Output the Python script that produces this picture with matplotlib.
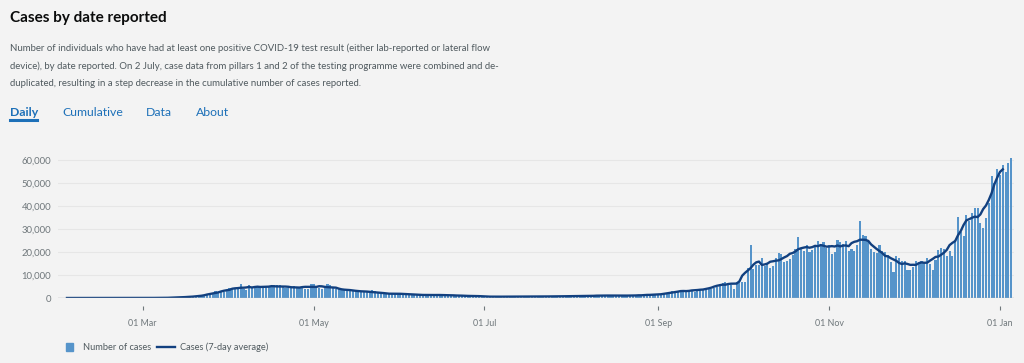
import matplotlib
matplotlib.use("Agg")
import matplotlib.pyplot as plt
import matplotlib.dates as mdates
from matplotlib.lines import Line2D
from matplotlib.patches import Rectangle
import numpy as np
import pandas as pd

# daily cases by date reported, one list per month (31 Jan 2020 - 05 Jan 2021)
jan20 = [2]
feb20 = [0, 0, 0, 0, 0, 1, 0, 0, 0, 4, 0, 1, 0, 0, 0, 0, 0, 0, 0, 0, 0, 0,
         0, 4, 0, 0, 2, 5, 3]
mar20 = [12, 4, 11, 34, 30, 48, 43, 67, 48, 61, 74, 126, 208, 342, 251, 152,
         407, 676, 643, 714, 1035, 665, 967, 1427, 1452, 2129, 2885, 2546,
         2433, 2619, 3009]
apr20 = [4324, 4244, 4450, 3735, 5903, 3802, 3634, 5491, 4344, 5195, 5233,
         4342, 5252, 4603, 4617, 4618, 5599, 5525, 5850, 4676, 4301, 4451,
         4583, 5386, 4913, 4463, 4310, 3996, 4076, 6032]
may20 = [6201, 4806, 4339, 3985, 4406, 6111, 5614, 4649, 3896, 3923, 3877,
         3403, 3242, 3446, 3560, 3451, 3142, 2684, 2412, 2472, 2615, 3287,
         2959, 2405, 1625, 2004, 2013, 1887, 2095, 1936, 1570]
jun20 = [1653, 1871, 1871, 1805, 1650, 1557, 1326, 1205, 1387, 1003, 1266,
         1541, 1425, 1514, 1056, 1279, 1115, 1218, 1346, 1295, 1221, 958, 874,
         653, 1118, 1006, 890, 901, 815, 689]
jul20 = [829, 576, 544, 624, 516, 352, 581, 630, 512, 820, 650, 598, 530,
         538, 538, 642, 687, 827, 580, 535, 445, 560, 769, 767, 798, 745, 685,
         581, 763, 846, 880]
aug20 = [744, 742, 938, 670, 892, 950, 871, 758, 1062, 816, 1148, 1009, 1441,
         1012, 1077, 1040, 713, 1089, 812, 1182, 1033, 1288, 1041, 853, 1184,
         1048, 1276, 1522, 1276, 1715, 1406]
sep20 = [1295, 1508, 1735, 1940, 1813, 2988, 2948, 2460, 2659, 2919, 3539,
         3497, 3330, 2621, 3105, 3991, 3395, 4322, 4422, 3899, 4368, 4926,
         6178, 6634, 6874, 6042, 5693, 4044, 7143, 7108]
oct20 = [6914, 6968, 12872, 22961, 12594, 14542, 14162, 17540, 13864, 15166,
         12872, 13972, 17234, 19724, 18980, 15650, 16171, 16982, 18804, 21331,
         26688, 21242, 20530, 23012, 19790, 20890, 22885, 24701, 23065, 24405,
         21915]
nov20 = [23254, 18950, 20018, 25177, 24141, 23287, 24957, 20572, 21350, 20412,
         22950, 33470, 27301, 26860, 24962, 21363, 20051, 19609, 22915, 20252,
         19875, 18662, 15450, 11299, 18213, 17555, 16022, 15871, 12155, 12330]
dec20 = [13430, 16170, 14879, 16298, 15539, 17272, 14718, 12282, 16578, 20964,
         21672, 21502, 18447, 20263, 18450, 25161, 35383, 28507, 27052, 35928,
         33364, 36804, 39237, 39036, 32725, 30501, 34693, 41385, 53135, 50023,
         55892]
jan21 = [53285, 57725, 54990, 58784, 60916]

cases = jan20 + feb20 + mar20 + apr20 + may20 + jun20 + jul20 + aug20 + \
    sep20 + oct20 + nov20 + dec20 + jan21
dates = pd.date_range("2020-01-31", periods=len(cases), freq="D")
df = pd.DataFrame({"cases": cases}, index=dates)
df["avg"] = df["cases"].rolling(7, center=True).mean()

W, H = 1024, 363
plt.rcParams["font.family"] = ["Lato", "DejaVu Sans"]
fig = plt.figure(figsize=(W / 100, H / 100), dpi=100, facecolor="#f3f3f3")


def fx(x):
    return x / W


def fy(y):
    return 1 - y / H


dark = "#0b0c0c"
grey = "#505a5f"
blue = "#1d70b8"
bar_blue = "#5694ca"
line_blue = "#12407f"

fig.text(fx(10), fy(18), "Cases by date reported", fontsize=11,
         fontweight="bold", color=dark, va="center")
desc = ["Number of individuals who have had at least one positive COVID-19 test result (either lab-reported or lateral flow",
        "device), by date reported. On 2 July, case data from pillars 1 and 2 of the testing programme were combined and de-",
        "duplicated, resulting in a step decrease in the cumulative number of cases reported."]
for i, line in enumerate(desc):
    fig.text(fx(10), fy(48 + 18 * i), line, fontsize=6.95, color=grey, va="center")

fig.text(fx(10), fy(112), "Daily", fontsize=8.8, fontweight="bold", color=blue, va="center")
fig.add_artist(Line2D([fx(10), fx(37)], [fy(120), fy(120)], color=blue, lw=2.2))
for label, x in [("Cumulative", 62), ("Data", 146), ("About", 196)]:
    fig.text(fx(x), fy(112), label, fontsize=8.8, color=blue, va="center")

# chart area
y0, y60 = 298, 160
ymax = 63000
top = y0 - (y0 - y60) * ymax / 60000
ax = fig.add_axes([fx(58), fy(y0), fx(1014) - fx(58), (y0 - top) / H])
ax.set_facecolor("#f3f3f3")

ax.bar(df.index, df["cases"], width=0.75, color=bar_blue, zorder=2)
ax.plot(df.index, df["avg"], color=line_blue, lw=1.7, zorder=3)
ax.axhline(0, color="#b1b4b6", lw=1, zorder=4)

ax.set_ylim(0, ymax)
ax.set_xlim(mdates.date2num(pd.Timestamp("2020-03-01")) - 30.2,
            mdates.date2num(pd.Timestamp("2021-01-01")) + 5)
ax.set_yticks(np.arange(0, 60001, 10000))
ax.yaxis.set_major_formatter(matplotlib.ticker.StrMethodFormatter("{x:,.0f}"))
ax.grid(axis="y", color="#e6e6e6", lw=0.8, zorder=0)
ax.xaxis.set_major_locator(mdates.MonthLocator(bymonth=[1, 3, 5, 7, 9, 11]))
ax.xaxis.set_major_formatter(mdates.DateFormatter("%d %b"))

for s in ax.spines.values():
    s.set_visible(False)
ax.spines["bottom"].set_position(("outward", 6))
ax.tick_params(axis="y", length=0, pad=5, labelsize=6.8, labelcolor="#6f777b")
ax.tick_params(axis="x", length=3, width=0.8, color="#6f777b", pad=6,
               labelsize=6.4, labelcolor="#6f777b")

# legend, drawn by hand
fig.add_artist(Rectangle((fx(66), fy(351)), fx(7), 8 / H, color=bar_blue))
fig.text(fx(83), fy(347), "Number of cases", fontsize=6.7, color=grey, va="center")
fig.add_artist(Line2D([fx(157), fx(175)], [fy(347), fy(347)], color=line_blue, lw=1.7))
fig.text(fx(180), fy(347), "Cases (7-day average)", fontsize=6.7, color=grey, va="center")

fig.savefig("out.png", dpi=100, facecolor=fig.get_facecolor())
